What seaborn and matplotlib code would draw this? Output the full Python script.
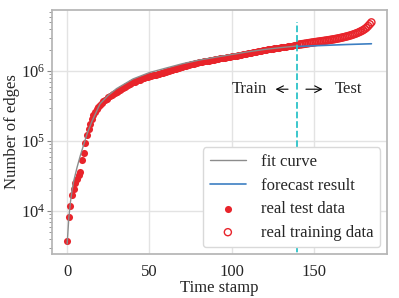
import numpy as np
import pandas as pd
import seaborn as sns
import matplotlib
matplotlib.use('Agg')
import matplotlib.pyplot as plt

# Данные (в тысячах рёбер)
train_edges_k = [
    3.7, 8.2, 11.8, 16.9, 21, 25, 29, 33, 36, 54, 68,
    95, 122, 150, 178, 205, 235, 260, 285, 308, 330,
    350, 370, 388, 405, 422, 438, 455, 472, 490, 508,
    526, 544, 562, 580, 598, 616, 634, 652, 670, 688,
    705, 720, 736, 752, 768, 783, 798, 812, 826, 840,
    852, 864, 876, 888, 900, 914, 928, 942, 958, 975,
    992, 1010, 1028, 1046, 1064, 1082, 1100, 1118, 1136, 1155,
    1174, 1192, 1210, 1228, 1246, 1262, 1278, 1294, 1310, 1326,
    1342, 1356, 1370, 1384, 1398, 1412, 1426, 1440, 1454, 1468,
    1482, 1496, 1510, 1524, 1538, 1552, 1566, 1580, 1596, 1612,
    1628, 1646, 1664, 1682, 1700, 1718, 1736, 1756, 1776, 1796,
    1816, 1836, 1856, 1876, 1896, 1916, 1936, 1956, 1976, 1996,
    2016, 2034, 2052, 2070, 2088, 2106, 2124, 2142, 2160, 2178,
    2196, 2214, 2232, 2250, 2268, 2286, 2304, 2322, 2340, 2360,
]
test_edges_k = [
    2380, 2400, 2420, 2440, 2460, 2482, 2504, 2526, 2548, 2570,
    2590, 2610, 2630, 2650, 2670, 2692, 2714, 2736, 2760, 2784,
    2810, 2836, 2864, 2894, 2926, 2960, 2996, 3034, 3074, 3116,
    3160, 3210, 3265, 3325, 3390, 3460, 3540, 3630, 3730, 3840,
    3980, 4150, 4380, 4650, 4950,
]

fit_t = [0, 1, 2, 3, 4, 6, 8, 10, 12, 15, 20, 25, 30, 40, 50, 60, 70, 80, 90, 100, 110, 120, 130, 140]
fit_edges_k = [3.4, 8, 13.5, 20, 27, 42, 62, 88, 125, 190, 340, 450, 560, 770, 950, 1100,
               1270, 1430, 1570, 1720, 1880, 2030, 2160, 2280]

forecast_t = [140, 150, 160, 170, 185]
forecast_edges_k = [2240, 2290, 2340, 2390, 2450]

split_t = 140

# Таблицы для seaborn
train_df = pd.DataFrame({'t': np.arange(len(train_edges_k)), 'edges': np.array(train_edges_k) * 1e3})
test_df = pd.DataFrame({'t': np.arange(len(train_edges_k), len(train_edges_k) + len(test_edges_k)),
                        'edges': np.array(test_edges_k) * 1e3})
fit_df = pd.DataFrame({'t': fit_t, 'edges': np.array(fit_edges_k) * 1e3})
forecast_df = pd.DataFrame({'t': forecast_t, 'edges': np.array(forecast_edges_k) * 1e3})

# Стиль
sns.set_theme(style='whitegrid')
plt.rcParams['font.family'] = ['Liberation Serif', 'DejaVu Serif']
plt.rcParams['mathtext.fontset'] = 'stix'
plt.rcParams['axes.edgecolor'] = '#b5b5b5'
plt.rcParams['grid.color'] = '#e3e3e3'

red = '#e8242b'

fig, ax = plt.subplots(figsize=(3.99, 2.98), dpi=100)
fig.subplots_adjust(left=0.13, right=0.97, bottom=0.148, top=0.966)

sns.lineplot(data=fit_df, x='t', y='edges', color='#8c8c8c', lw=1, label='fit curve', ax=ax)
sns.lineplot(data=forecast_df, x='t', y='edges', color='#3d7fc2', lw=1.2, label='forecast result', ax=ax)
sns.scatterplot(data=train_df, x='t', y='edges', color=red, s=26, linewidth=0,
                label='real test data', ax=ax, zorder=1.5)
sns.scatterplot(data=test_df, x='t', y='edges', facecolor='none', edgecolor=red, s=26,
                linewidth=1.0, label='real training data', ax=ax, zorder=1.5)

ax.set_yscale('log')
ax.set_ylim(2450, 7.4e6)
ax.set_xlim(-9.3, 194.5)

# Граница обучающей и тестовой выборки
ax.vlines(split_t, 1e3, 5e6, colors='#2cc3c8', linestyles='--', lw=1.3, zorder=4)
ax.annotate('', xy=(125, 5.5e5), xytext=(136, 5.5e5),
            arrowprops=dict(arrowstyle='->', color='black', lw=0.8))
ax.annotate('', xy=(157, 5.5e5), xytext=(143.5, 5.5e5),
            arrowprops=dict(arrowstyle='->', color='black', lw=0.8))
ax.text(111, 5.5e5, 'Train', fontsize=12, ha='center', va='center')
ax.text(171, 5.5e5, 'Test', fontsize=12, ha='center', va='center')

ax.set_xticks([0, 50, 100, 150])
ax.set_xlabel('Time stamp', fontsize=12, labelpad=0)
ax.set_ylabel('Number of edges', fontsize=12, labelpad=1)
ax.tick_params(axis='both', labelsize=12, pad=1)
ax.tick_params(axis='y', which='major', left=True, length=3.5, width=0.8, color='#8a8a8a')
ax.tick_params(axis='y', which='minor', left=True, length=2, width=0.6, color='#8a8a8a')
ax.grid(which='minor', visible=False)

ax.legend(loc='lower right', fontsize=12, frameon=True, framealpha=1,
          edgecolor='#d9d9d9', borderpad=0.4, labelspacing=0.45, handletextpad=0.9,
          handlelength=2.2, borderaxespad=0.4)

plt.savefig('out.png', dpi=100)
